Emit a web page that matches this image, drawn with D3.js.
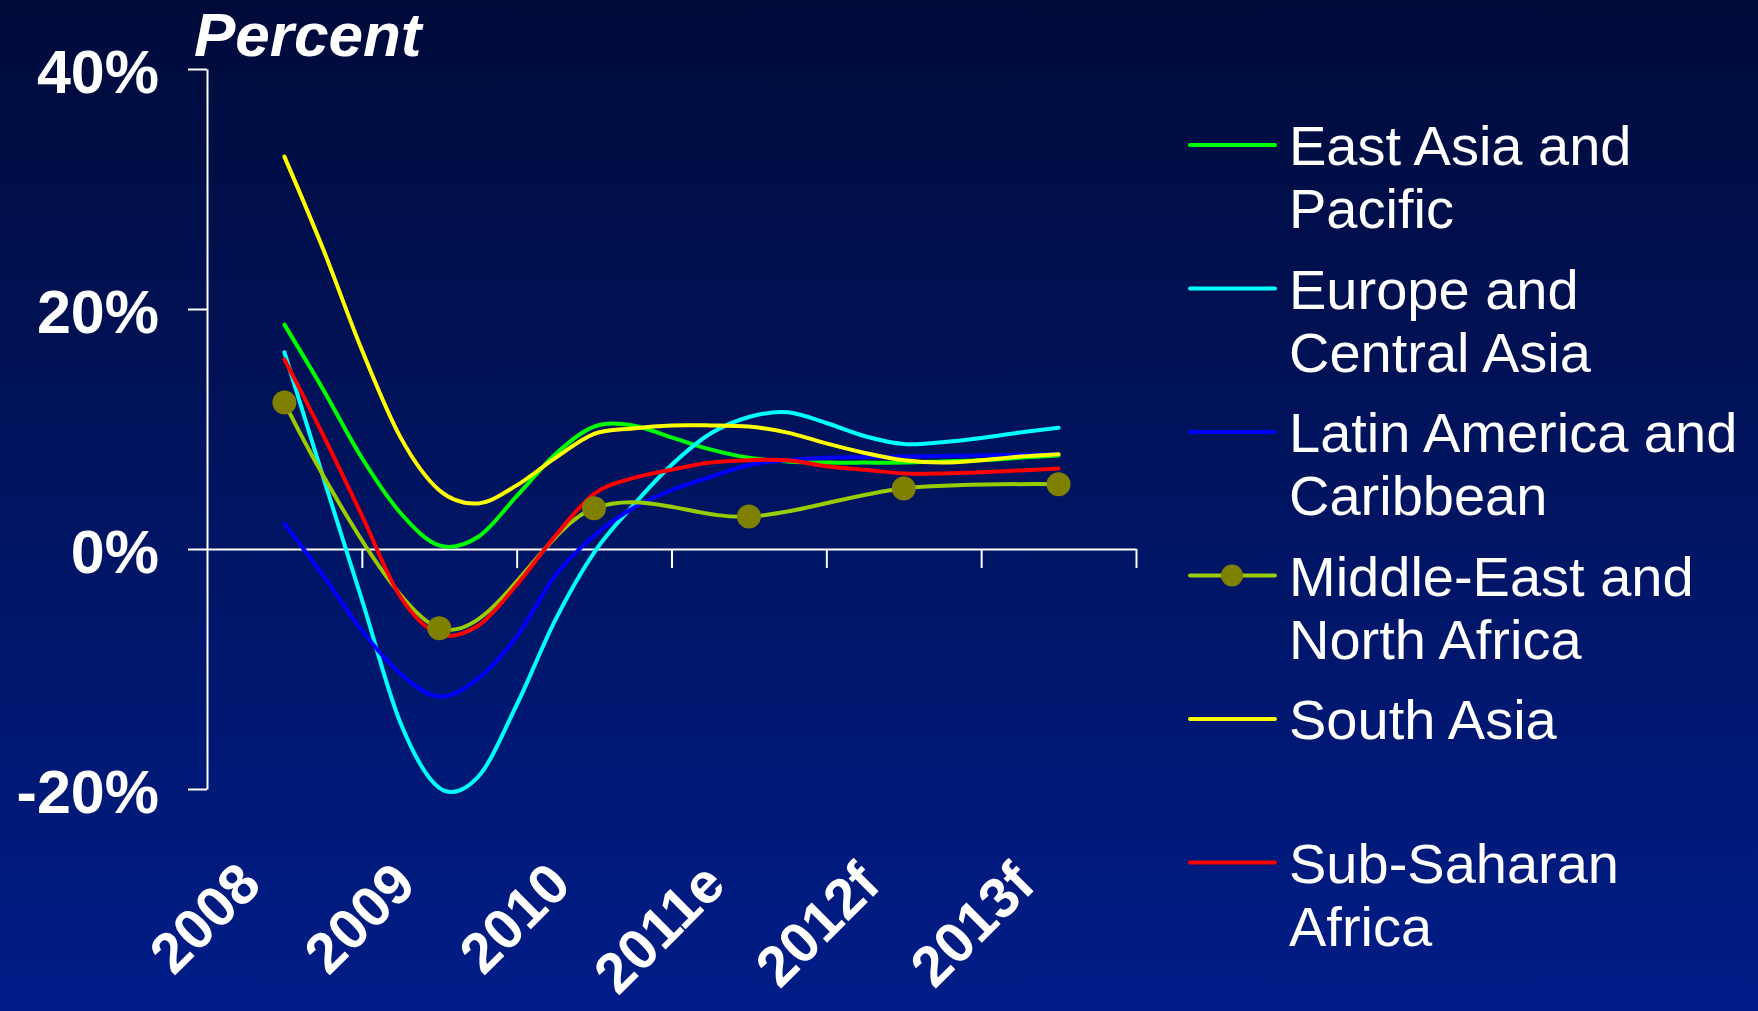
<!DOCTYPE html>
<html>
<head>
<meta charset="utf-8">
<script src="https://cdn.jsdelivr.net/npm/d3@7"></script>
<style>
  body { margin: 0; background: #000c3c; }
  svg { display: block; font-family: "Liberation Sans", Arial, sans-serif; }
</style>
</head>
<body>
<svg id="chart" width="1758" height="1011"></svg>
<script>
// categories on the x axis
const years = ["2008", "2009", "2010", "2011e", "2012f", "2013f"];
const yTicks = [-20, 0, 20, 40];

// quarterly points
const quarters = [2008, 2008.25, 2008.5, 2008.75, 2009, 2009.25, 2009.5, 2009.75,
  2010, 2010.25, 2010.5, 2010.75, 2011, 2011.25, 2011.5, 2011.75,
  2012, 2012.25, 2012.5, 2012.75, 2013];

const eastAsia = [18.7, 13.3, 7.6, 3.0, 0.3, 1.0, 4.4, 7.9, 10.2, 10.3, 9.3, 8.3,
  7.6, 7.3, 7.2, 7.2, 7.2, 7.3, 7.4, 7.6, 7.8];
const europe = [16.4, 6.0, -4.2, -14.5, -19.9, -19.0, -13.0, -5.9, -0.3, 3.6, 7.0, 9.6,
  11.0, 11.4, 10.5, 9.4, 8.75, 8.9, 9.25, 9.7, 10.1];
const latinAmerica = [2.1, -2.2, -6.8, -10.4, -12.3, -10.8, -7.3, -2.2, 1.1, 3.4, 4.9, 6.0,
  7.0, 7.4, 7.6, 7.65, 7.7, 7.75, 7.8, 7.85, 7.9];
const southAsia = [32.7, 25.0, 16.6, 9.3, 4.9, 3.8, 5.3, 7.6, 9.6, 10.05, 10.3, 10.3,
  10.2, 9.7, 8.8, 8.0, 7.4, 7.2, 7.4, 7.7, 7.9];
const subSaharan = [15.8, 9.5, 2.8, -4.0, -7.1, -6.4, -3.0, 1.1, 4.6, 5.9, 6.6, 7.2,
  7.4, 7.4, 6.9, 6.6, 6.3, 6.3, 6.4, 6.55, 6.7];

// MENA only has annual values
const menaYears = [2008, 2009, 2010, 2011, 2012, 2013];
const mena = [12.2, -6.6, 3.4, 2.7, 5.05, 5.4];

const series = [
  { name: ["East Asia and", "Pacific"], color: "#00ff00", x: quarters, values: eastAsia },
  { name: ["Europe and", "Central Asia"], color: "#00ffff", x: quarters, values: europe },
  { name: ["Latin America and", "Caribbean"], color: "#0000ff", x: quarters, values: latinAmerica },
  { name: ["Middle-East and", "North Africa"], color: "#99cc00", x: menaYears, values: mena, marker: "#808000" },
  { name: ["South Asia"], color: "#ffff00", x: quarters, values: southAsia },
  { name: ["Sub-Saharan", "Africa"], color: "#ff0000", x: quarters, values: subSaharan }
];

const svg = d3.select("#chart");

// background gradient
const grad = svg.append("defs").append("linearGradient")
  .attr("id", "bg").attr("x1", 0).attr("y1", 0).attr("x2", 0).attr("y2", 1);
grad.append("stop").attr("offset", "0%").attr("stop-color", "#000b3a");
grad.append("stop").attr("offset", "100%").attr("stop-color", "#001d88");
svg.append("rect").attr("width", 1758).attr("height", 1011).attr("fill", "url(#bg)");

// scales
const xBand = d3.scaleBand().domain(years).range([207, 1136]);
const half = xBand.bandwidth() / 2;
const xTime = d3.scaleLinear()
  .domain([2008, 2013])
  .range([xBand("2008") + half, xBand("2013f") + half]);
const y = d3.scaleLinear().domain([-20, 40]).range([789, 69]);

// y axis
const yAxis = svg.append("g")
  .attr("transform", "translate(207,0)")
  .call(d3.axisLeft(y).tickValues(yTicks).tickSize(19).tickSizeOuter(0).tickPadding(29)
    .tickFormat(d => d + "%"));
yAxis.selectAll("path, line").attr("stroke", "#fff").attr("stroke-width", 2);
yAxis.selectAll("text")
  .attr("fill", "#fff")
  .attr("dy", "0.38em")
  .style("font-size", "61px")
  .style("font-weight", "bold")
  .style("font-family", "'Liberation Sans', Arial, sans-serif");

// x axis: ticks sit on the band edges
const xEdges = d3.scaleLinear().domain([0, years.length]).range(xBand.range());
const xAxis = svg.append("g")
  .attr("transform", `translate(0,${y(0)})`)
  .call(d3.axisBottom(xEdges).tickValues(d3.range(1, years.length + 1)).tickSize(19)
    .tickSizeOuter(0).tickFormat(""));
xAxis.selectAll("path, line").attr("stroke", "#fff").attr("stroke-width", 2);

// rotated year labels
const xLabels = svg.append("g")
  .attr("transform", `translate(0,${y(0)})`)
  .call(d3.axisBottom(xBand).tickSize(0));
xLabels.select(".domain").remove();
xLabels.selectAll("text")
  .attr("fill", "#fff")
  .attr("y", 0).attr("dy", 0)
  .attr("text-anchor", "end")
  .attr("transform", "translate(-21,338) rotate(-45)")
  .style("font-size", "57px")
  .style("font-weight", "bold")
  .style("font-family", "'Liberation Sans', Arial, sans-serif");

// axis title
svg.append("text")
  .attr("x", 194).attr("y", 56)
  .attr("fill", "#fff")
  .style("font-size", "62px")
  .style("font-weight", "bold")
  .style("font-style", "italic")
  .text("Percent");

// lines
const line = d3.line().curve(d3.curveCardinal.tension(0));
svg.selectAll(".series")
  .data(series)
  .enter().append("path")
  .attr("class", "series")
  .attr("fill", "none")
  .attr("stroke", d => d.color)
  .attr("stroke-width", 4)
  .attr("stroke-linecap", "round")
  .attr("stroke-linejoin", "round")
  .attr("d", d => line(d.values.map((v, i) => [xTime(d.x[i]), y(v)])));

// MENA markers
svg.selectAll(".marker")
  .data(mena)
  .enter().append("circle")
  .attr("class", "marker")
  .attr("cx", (d, i) => xTime(menaYears[i]))
  .attr("cy", d => y(d))
  .attr("r", 12)
  .attr("fill", "#808000");

// legend
const legend = svg.selectAll(".legend")
  .data(series)
  .enter().append("g")
  .attr("class", "legend")
  .attr("transform", (d, i) => `translate(1190,${145 + i * 143.5})`);

legend.append("line")
  .attr("x1", 0).attr("x2", 85)
  .attr("stroke", d => d.color)
  .attr("stroke-width", 4)
  .attr("stroke-linecap", "round");

legend.filter(d => d.marker)
  .append("circle")
  .attr("cx", 42).attr("r", 11)
  .attr("fill", d => d.marker);

legend.append("text")
  .attr("x", 99).attr("y", 20)
  .attr("fill", "#fff")
  .style("font-size", "56px")
  .selectAll("tspan")
  .data(d => d.name)
  .enter().append("tspan")
  .attr("x", 99)
  .attr("dy", (d, i) => i === 0 ? 0 : 63)
  .text(d => d);
</script>
</body>
</html>
